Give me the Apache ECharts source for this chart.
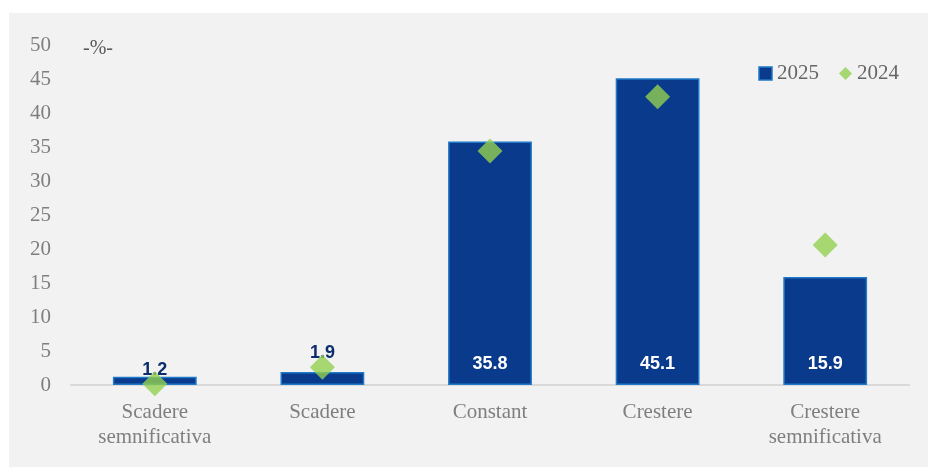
<!DOCTYPE html>
<html>
<head>
<meta charset="utf-8">
<script src="https://cdn.jsdelivr.net/npm/echarts@6/dist/echarts.min.js"></script>
<style>
  html, body { margin: 0; padding: 0; background: #ffffff; }
  #chart { position: absolute; left: 9px; top: 13px; width: 919px; height: 454px; background: #f2f2f2; }
</style>
</head>
<body>
<div id="chart"></div>
<script>
// Categories and series values
const categories = ['Scadere\nsemnificativa', 'Scadere', 'Constant', 'Crestere', 'Crestere\nsemnificativa'];
const values2025 = [1.2, 1.9, 35.8, 45.1, 15.9];
const values2024 = [0.2, 2.6, 34.4, 42.4, 20.6];
const yTicks = { min: 0, max: 50, interval: 5 };

const chart = echarts.init(document.getElementById('chart'), null, { renderer: 'canvas' });

// Small bars carry their label above, tall bars inside near the base
const smallLabelGap = [-2, 10];
const barData = values2025.map((v, i) => {
  const small = v < 5;
  return {
    value: v,
    label: small
      ? { show: true, position: 'top', distance: smallLabelGap[i] ?? 0, color: '#0c2d6b' }
      : { show: true, position: 'insideBottom', distance: 12, color: '#ffffff' }
  };
});

const serif = 'Liberation Serif';

chart.setOption({
  animation: false,
  backgroundColor: '#f2f2f2',
  title: {
    text: '-%-',
    left: 69, top: 21,
    textStyle: { fontFamily: serif, fontSize: 20, fontWeight: 'normal', color: '#595959' }
  },
  legend: {
    top: 45, right: 24,
    itemGap: 20,
    itemWidth: 13, itemHeight: 13,
    textStyle: { fontFamily: serif, fontSize: 21, color: '#666666' },
    data: [
      { name: '2025', icon: 'rect', itemStyle: { color: '#0a3a8c', borderColor: '#1f78c8', borderWidth: 1.5 } },
      { name: '2024', icon: 'diamond', itemStyle: { color: '#92d050' } }
    ]
  },
  grid: { left: 62, right: 19, top: 32, bottom: 82 },
  xAxis: {
    type: 'category',
    data: categories,
    axisLine: { lineStyle: { color: '#d9d9d9', width: 2 } },
    axisTick: { show: false },
    axisLabel: {
      fontFamily: serif, fontSize: 21, color: '#7f7f7f',
      lineHeight: 25, margin: 15, interval: 0
    }
  },
  yAxis: {
    type: 'value',
    min: yTicks.min, max: yTicks.max, interval: yTicks.interval,
    axisLine: { show: false },
    axisTick: { show: false },
    splitLine: { show: false },
    axisLabel: { fontFamily: serif, fontSize: 21, color: '#7f7f7f', margin: 20 }
  },
  series: [
    {
      name: '2025',
      type: 'bar',
      data: barData,
      barWidth: '50%',
      itemStyle: { color: '#0a3a8c', borderColor: '#1f78c8', borderWidth: 1.5 },
      label: {
        show: true,
        fontFamily: 'Liberation Sans', fontWeight: 'bold', fontSize: 18,
        formatter: p => p.value.toFixed(1)
      },
      z: 2
    },
    {
      name: '2024',
      type: 'scatter',
      data: values2024,
      symbol: 'diamond',
      symbolSize: 25,
      itemStyle: { color: '#92d050' },
      z: 3
    }
  ]
});
</script>
</body>
</html>
